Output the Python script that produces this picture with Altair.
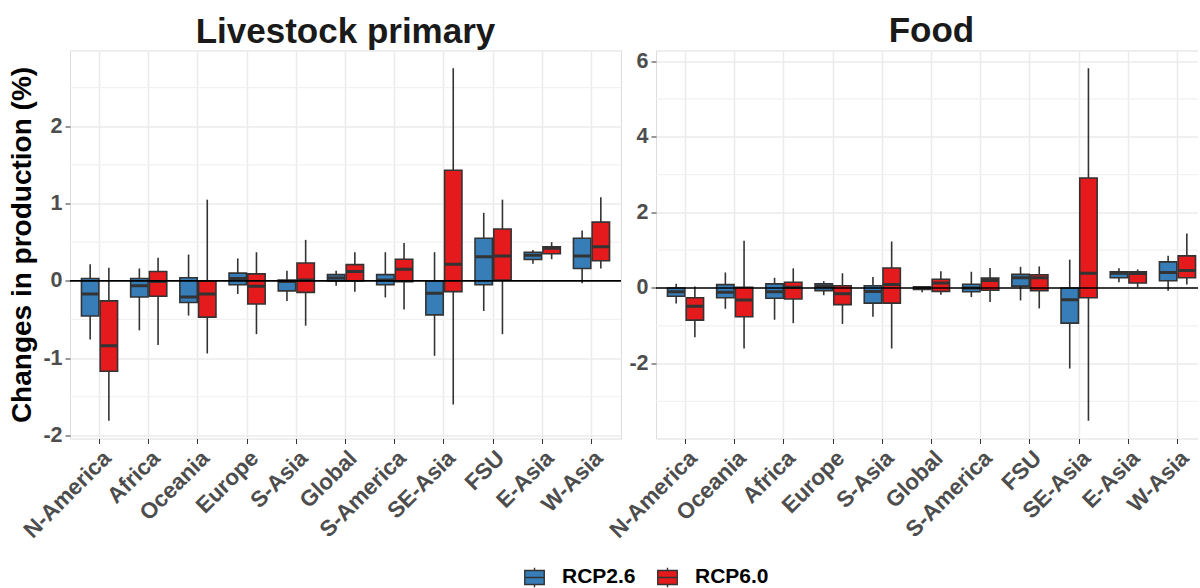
import altair as alt
import pandas as pd

# Region order on each panel's x axis
regions_livestock = ["N-America", "Africa", "Oceania", "Europe", "S-Asia", "Global",
                     "S-America", "SE-Asia", "FSU", "E-Asia", "W-Asia"]
regions_food = ["N-America", "Oceania", "Africa", "Europe", "S-Asia", "Global",
                "S-America", "FSU", "SE-Asia", "E-Asia", "W-Asia"]

scenarios = ["RCP2.6", "RCP6.0"]
scenario_colors = ["#377EB8", "#E41A1C"]

# Box statistics per region: [whisker low, Q1, median, Q3, whisker high] (% change)
livestock_rcp26 = [
    [-0.76, -0.456, -0.17, 0.03, 0.215],
    [-0.64, -0.21, -0.065, 0.03, 0.16],
    [-0.45, -0.28, -0.21, 0.04, 0.34],
    [-0.17, -0.05, 0.03, 0.10, 0.29],
    [-0.26, -0.13, -0.01, 0.01, 0.13],
    [-0.065, 0.0, 0.035, 0.08, 0.13],
    [-0.215, -0.05, 0.01, 0.08, 0.37],
    [-0.97, -0.44, -0.16, 0.0, 0.37],
    [-0.39, -0.05, 0.31, 0.55, 0.88],
    [0.22, 0.275, 0.33, 0.37, 0.40],
    [-0.03, 0.16, 0.32, 0.55, 0.65],
]
livestock_rcp60 = [
    [-1.81, -1.17, -0.84, -0.26, 0.17],
    [-0.83, -0.20, -0.01, 0.12, 0.30],
    [-0.94, -0.47, -0.17, 0.0, 1.05],
    [-0.69, -0.30, -0.07, 0.09, 0.37],
    [-0.58, -0.15, 0.01, 0.23, 0.53],
    [-0.14, 0.0, 0.12, 0.21, 0.37],
    [-0.37, -0.01, 0.15, 0.28, 0.49],
    [-1.60, -0.14, 0.215, 1.43, 2.75],
    [-0.69, 0.01, 0.32, 0.67, 1.05],
    [0.28, 0.35, 0.42, 0.44, 0.50],
    [0.16, 0.26, 0.44, 0.76, 1.08],
]
food_rcp26 = [
    [-0.41, -0.22, -0.10, 0.0, 0.11],
    [-0.55, -0.26, -0.11, 0.09, 0.41],
    [-0.84, -0.27, -0.10, 0.11, 0.27],
    [-0.19, -0.07, 0.04, 0.11, 0.18],
    [-0.76, -0.40, -0.09, 0.06, 0.29],
    [-0.11, -0.04, 0.0, 0.03, 0.05],
    [-0.24, -0.10, 0.0, 0.10, 0.43],
    [-0.33, 0.05, 0.27, 0.36, 0.56],
    [-2.13, -0.93, -0.31, 0.0, 0.75],
    [0.15, 0.27, 0.39, 0.43, 0.52],
    [-0.07, 0.19, 0.41, 0.69, 0.85],
]
food_rcp60 = [
    [-1.30, -0.85, -0.48, -0.26, 0.04],
    [-1.60, -0.76, -0.32, 0.02, 1.25],
    [-0.93, -0.29, 0.02, 0.15, 0.52],
    [-0.95, -0.44, -0.15, 0.06, 0.39],
    [-1.60, -0.40, 0.09, 0.53, 1.23],
    [-0.18, -0.09, 0.13, 0.23, 0.44],
    [-0.37, -0.06, 0.20, 0.26, 0.53],
    [-0.54, -0.07, 0.27, 0.35, 0.57],
    [-3.51, -0.26, 0.39, 2.91, 5.81],
    [0.02, 0.13, 0.38, 0.43, 0.49],
    [0.09, 0.27, 0.46, 0.85, 1.44],
]

livestock_ticks = [-2, -1, 0, 1, 2]
livestock_minor = [-1.5, -0.5, 0.5, 1.5, 2.5]
livestock_domain = [-2.04, 2.98]
food_ticks = [-2, 0, 2, 4, 6]
food_minor = [-3, -1, 1, 3, 5]
food_domain = [-3.98, 6.28]

FONT = "Liberation Sans"
PANEL_W = 551
PANEL_H = 388
FRAME = "#4d4d4d"
BOX_PATH = "M-1,-0.72H1V0.72H-1Z M0,-1V-0.72 M0,0.72V1 M-1,0H1"


def box_table(regions, low_series, high_series):
    rows = []
    for scen, series in zip(scenarios, [low_series, high_series]):
        for reg, (lo, q1, med, q3, hi) in zip(regions, series):
            rows.append(dict(region=reg, scenario=scen, lo=lo, q1=q1,
                             med=med, q3=q3, hi=hi))
    return pd.DataFrame(rows)


def panel(title, regions, low_series, high_series, domain, ticks, minor, ytitle):
    df = box_table(regions, low_series, high_series)

    x = alt.X("region:N", sort=regions, title=None,
              scale=alt.Scale(paddingInner=0, paddingOuter=0.1),
              axis=alt.Axis(labelAngle=-45, labelAlign="right", labelBaseline="top",
                            labelFontSize=22.5, labelFontWeight="bold",
                            labelColor="#4d4d4d", labelFont=FONT, labelPadding=3,
                            tickColor="#333333", tickSize=5, domain=False,
                            grid=True, gridColor="#EBEBEB", gridWidth=1.5))
    xo = alt.XOffset("scenario:N",
                     scale=alt.Scale(domain=scenarios, paddingInner=0.07,
                                     paddingOuter=0.35))

    yaxis = alt.Axis(values=ticks, labelExpr="'' + datum.value",
                     labelFontSize=21.5, labelFontWeight="bold",
                     labelColor="#4d4d4d", labelFont=FONT, labelPadding=3,
                     tickColor="#333333", tickSize=5, domain=False,
                     grid=True, gridColor="#EBEBEB", gridWidth=1.5,
                     title=ytitle if ytitle else None,
                     titleFontSize=28, titleFontWeight="bold", titleColor="#000000",
                     titleFont=FONT, titlePadding=6)
    yscale = alt.Scale(domain=domain, nice=False, zero=False)

    minor_grid = alt.Chart(pd.DataFrame({"v": minor})).mark_rule(
        color="#F1F1F1", strokeWidth=1.2
    ).encode(y=alt.Y("v:Q", scale=yscale, axis=yaxis))

    whiskers = alt.Chart(df).mark_rule(color="#333333", strokeWidth=1.6).encode(
        x=x, xOffset=xo,
        y=alt.Y("lo:Q", scale=yscale, axis=yaxis), y2="hi:Q")

    boxes = alt.Chart(df).mark_bar(stroke="#333333", strokeWidth=1.6).encode(
        x=x, xOffset=xo,
        y=alt.Y("q1:Q", scale=yscale, axis=yaxis), y2="q3:Q",
        fill=alt.Fill("scenario:N",
                      scale=alt.Scale(domain=scenarios, range=scenario_colors),
                      legend=alt.Legend(title=None, orient="none", direction="horizontal",
                                        legendX=454, legendY=516, padding=0,
                                        symbolType=BOX_PATH, symbolSize=380,
                                        symbolStrokeColor="#333333",
                                        symbolStrokeWidth=1.4,
                                        labelFontSize=21, labelFontWeight="bold",
                                        labelColor="#000000", labelFont=FONT,
                                        labelOffset=17, columnPadding=18)))

    medians = alt.Chart(df).mark_bar(stroke="#333333", strokeWidth=3, fillOpacity=0).encode(
        x=x, xOffset=xo,
        y=alt.Y("med:Q", scale=yscale, axis=yaxis), y2="med:Q")

    zero_line = alt.Chart(pd.DataFrame({"v": [0]})).mark_rule(
        color="#000000", strokeWidth=1.6
    ).encode(y=alt.Y("v:Q", scale=yscale, axis=yaxis))

    return alt.layer(minor_grid, whiskers, boxes, medians, zero_line).properties(
        width=PANEL_W, height=PANEL_H,
        title=alt.TitleParams(title, fontSize=35, fontWeight="bold", font=FONT,
                              color="#1a1a1a", anchor="middle", offset=-34,
                              baseline="bottom"))


left = panel("Livestock primary", regions_livestock, livestock_rcp26, livestock_rcp60,
             livestock_domain, livestock_ticks, livestock_minor,
             "Changes in production (%)")
right = panel("Food", regions_food, food_rcp26, food_rcp60,
              food_domain, food_ticks, food_minor, None)

# The Food panel's right-hand edge falls just past the page edge.
chart = alt.hconcat(left, right, spacing=35, bounds="flush").properties(
    padding={"left": 8, "top": 13.5, "right": -11, "bottom": 0}
).configure_view(stroke=FRAME, strokeWidth=1.2).configure(background="white")

chart.save("out.html", embed_options={"renderer": "svg", "actions": False})
